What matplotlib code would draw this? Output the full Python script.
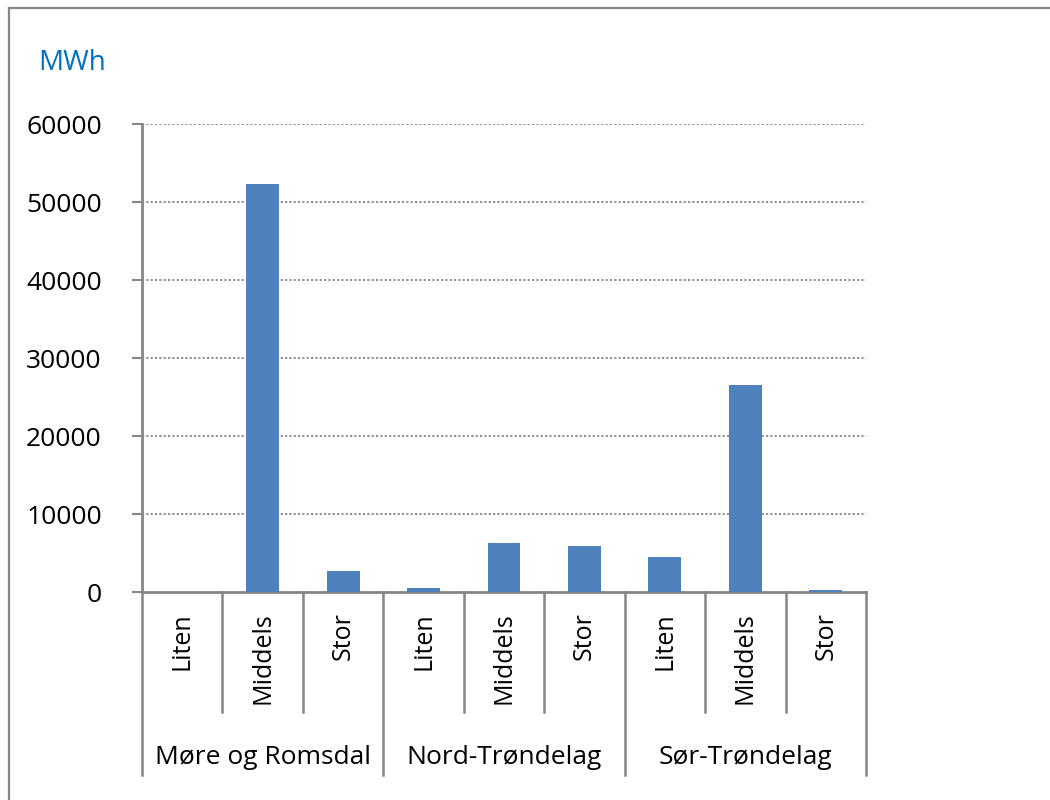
import matplotlib
matplotlib.use("Agg")
import matplotlib.pyplot as plt
from matplotlib.lines import Line2D

# Energy use (MWh) by county and size class
regions = ["Møre og Romsdal", "Nord-Trøndelag", "Sør-Trøndelag"]
sizes = ["Liten", "Middels", "Stor"]
more_og_romsdal = [0, 52400, 2700]
nord_trondelag = [600, 6300, 6000]
sor_trondelag = [4500, 26600, 300]
y_ticks = [0, 10000, 20000, 30000, 40000, 50000, 60000]

values = more_og_romsdal + nord_trondelag + sor_trondelag
labels = sizes * len(regions)
positions = list(range(len(values)))

plt.rcParams["font.family"] = ["Open Sans", "DejaVu Sans"]

GREY = "#868686"
BLUE = "#4F81BD"

fig = plt.figure(figsize=(10.5, 8), dpi=100)
ax = fig.add_axes([142 / 1050, 1 - 592.3 / 800, (866 - 142) / 1050, (592.3 - 124.3) / 800])

ax.bar(positions, values, width=0.41, color=BLUE, edgecolor="none", zorder=3)

ax.set_xlim(-0.5, len(values) - 0.5)
ax.set_ylim(0, 60000)
ax.set_yticks(y_ticks)
ax.set_yticklabels([str(v) for v in y_ticks], fontsize=19)
ax.tick_params(axis="y", direction="out", length=7, width=1.5, color=GREY, pad=22)
ax.tick_params(axis="x", bottom=False, labelbottom=False)

for v in y_ticks[1:]:
    ax.axhline(v, color=GREY, lw=1.3, ls=(0, (1.2, 1.2)), zorder=1)

for side in ("top", "right"):
    ax.spines[side].set_visible(False)
for side in ("left", "bottom"):
    ax.spines[side].set_color(GREY)
    ax.spines[side].set_linewidth(2)

# Category separators below the axis
tr = ax.get_xaxis_transform()
ax_h = 592.3 - 124.3
inner_end = -(712 - 592.3) / ax_h
group_end = -(775 - 592.3) / ax_h
n = len(values)
for k in range(n + 1):
    x = k - 0.5
    y_end = group_end if k % 3 == 0 else inner_end
    ax.add_line(Line2D([x, x], [0, y_end], transform=tr, color=GREY, lw=1.8,
                       clip_on=False))

label_top = -(612 - 592.3) / ax_h
for p, lab in zip(positions, labels):
    ax.text(p, label_top, lab, transform=tr, rotation=90, ha="center", va="top",
            fontsize=18)

group_y = -(757 - 592.3) / ax_h
for g, reg in enumerate(regions):
    ax.text(g * 3 + 1, group_y, reg, transform=tr, ha="center", va="center",
            fontsize=19)

# Unit label
fig.text(38 / 1050, 1 - 63 / 800, "MWh", color="#0070C0", fontsize=20,
         ha="left", va="center")

# Outer chart frame
fig.add_artist(Line2D([8.5 / 1050, 8.5 / 1050], [0, 1 - 8 / 800],
                      transform=fig.transFigure, color=GREY, lw=1.6))
fig.add_artist(Line2D([8.5 / 1050, 1], [1 - 8 / 800, 1 - 8 / 800],
                      transform=fig.transFigure, color=GREY, lw=1.6))

fig.savefig("out.png", dpi=100, facecolor="white")
